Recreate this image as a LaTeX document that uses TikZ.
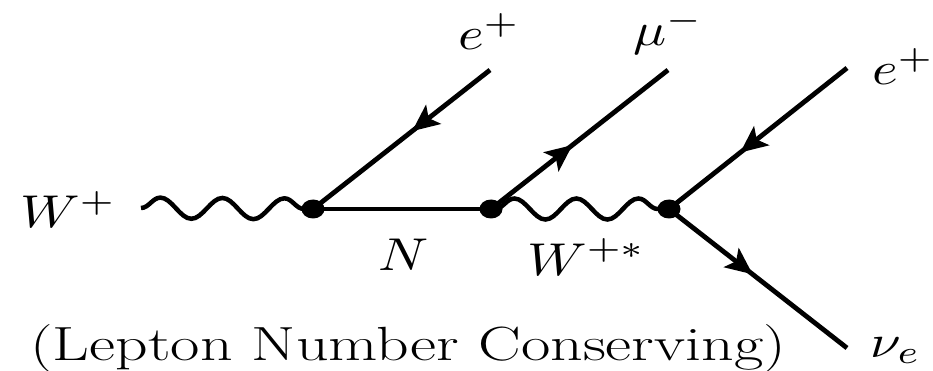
\documentclass[tikz,border=0pt]{standalone}
\usetikzlibrary{arrows.meta,decorations.pathmorphing,decorations.markings,shapes.geometric}
\newcommand\mlab[1]{\scalebox{5.5}[4.6]{$#1$}}
\newcommand\capstretch[1]{\scalebox{1.33}[1]{#1}}
\begin{document}
\begin{tikzpicture}[x=1pt,y=-1pt,
  fermion/.style={line width=4.8pt, postaction={decorate},
    decoration={markings, mark=at position #1 with {\arrow{Stealth[length=27pt,width=24pt,inset=6pt]}}}},
  boson/.style={line width=4.5pt, decorate,
    decoration={snake, segment length=62pt, amplitude=10.5pt}},
  propagator/.style={line width=4.8pt},
  vtx/.style={ellipse, fill=black, minimum width=23pt, minimum height=19pt, inner sep=0pt},
  lbl/.style={inner sep=0pt, anchor=base west},
]
\useasboundingbox (0,0) rectangle (933,371);
\coordinate (A) at (313,209);
\coordinate (B) at (491,209);
\coordinate (C) at (669,209);
\coordinate (Win) at (141,208);
\coordinate (eLt) at (490,70);
\coordinate (muT) at (668,70);
\coordinate (eRt) at (847,68);
\coordinate (nuB) at (847,348);

\draw[boson] (Win) -- (A);
\draw[propagator] (A) -- (B);
\draw[boson] ([xshift=4pt]B) -- (C);
\draw[fermion=0.44] (eLt) -- (A);
\draw[fermion=0.46] (B) -- (muT);
\draw[fermion=0.60] (eRt) -- (C);
\draw[fermion=0.47] (C) -- (nuB);

\node[vtx] (Adot) at (A) {};
\node[vtx] (Bdot) at (B) {};
\node[vtx] (Cdot) at (C) {};

\node[lbl] (Wlab) at (20,228) {\mlab{W^+}};
\node[lbl] (eLlab) at (458,50) {\mlab{e^+}};
\node[lbl] (mulab) at (633,46) {\mlab{\mu^-}};
\node[lbl] (eRlab) at (872,85) {\mlab{e^+}};
\node[lbl] (Nlab) at (378,270) {\mlab{N}};
\node[lbl] (Wslab) at (527,275) {\mlab{W^{+*}}};
\node[lbl] (nulab) at (870,357) {\mlab{\nu_e}};
\node[inner sep=0pt, anchor=base west, font=\fontsize{48}{56}\selectfont] (caption) at (30,360) {\capstretch{(Lepton Number Conserving)}};
\end{tikzpicture}
\end{document}
